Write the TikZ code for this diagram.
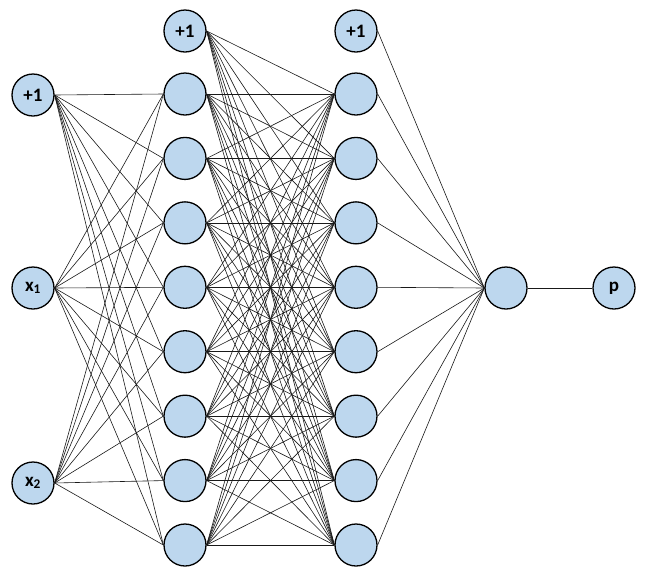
\documentclass[tikz,border=0pt]{standalone}
\usepackage{fontspec}
\setmainfont{Carlito}
\begin{document}
\begin{tikzpicture}[x=1pt,y=-1pt,
  neuron/.style={circle,draw=black,line width=1.3pt,fill=nfill,minimum size=42pt,inner sep=0pt,font=\bfseries\fontsize{19}{19}\selectfont},
  conn/.style={line width=0.6pt,black!90}]
\definecolor{nfill}{HTML}{BDD7EE}
\useasboundingbox (0,0) rectangle (646,582);
% input layer
\node[neuron] (i0) at (33,95) {+1};
\node[neuron] (i1) at (33,288) {x\textsubscript{1}};
\node[neuron] (i2) at (33,483) {x\textsubscript{2}};
% hidden layer 1 and 2
\node[neuron] (a0) at (185,31) {+1};
\node[neuron] (b0) at (356,31) {+1};
\foreach \k in {1,...,8}{
  \pgfmathsetmacro{\yy}{94+64.43*(\k-1)}
  \node[neuron] (a\k) at (185,\yy) {};
  \node[neuron] (b\k) at (356,\yy) {};
}
% output
\node[neuron] (o) at (506,288) {};
\node[neuron] (p) at (614,288) {p};
% connections
\foreach \s in {0,1,2}{
  \foreach \t in {1,...,8}{
    \draw[conn] (i\s.east) -- (a\t.west);
  }
}
\foreach \s in {0,...,8}{
  \foreach \t in {1,...,8}{
    \draw[conn] (a\s.east) -- (b\t.west);
  }
  \draw[conn] (b\s.east) -- (o.west);
}
\draw[conn] (o.east) -- (p.west);
\end{tikzpicture}
\end{document}
